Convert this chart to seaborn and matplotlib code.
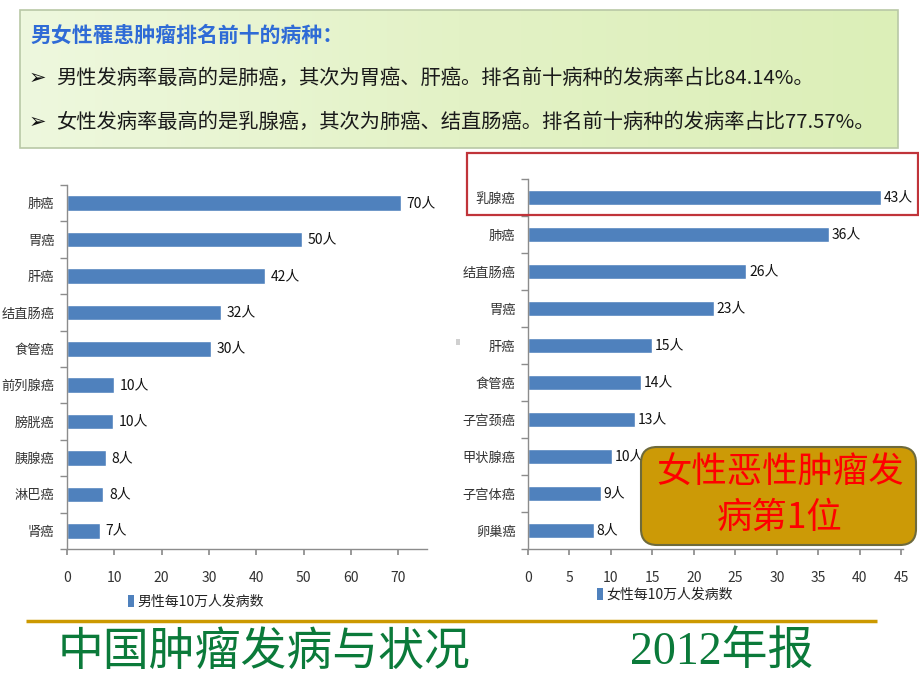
import numpy as np
import pandas as pd
import matplotlib
matplotlib.use("Agg")
import matplotlib.pyplot as plt
import seaborn as sns
from matplotlib.patches import FancyBboxPatch, Rectangle, Patch
from matplotlib.colors import LinearSegmentedColormap

# ---------------- data ----------------
male_cancers = ["肺癌", "胃癌", "肝癌", "结直肠癌", "食管癌", "前列腺癌", "膀胱癌", "胰腺癌", "淋巴癌", "肾癌"]
male_rates = [70.5, 49.7, 41.9, 32.5, 30.5, 10.0, 9.8, 8.3, 7.7, 7.0]
male_labels = ["70人", "50人", "42人", "32人", "30人", "10人", "10人", "8人", "8人", "7人"]
male_ticks = [0, 10, 20, 30, 40, 50, 60, 70]

female_cancers = ["乳腺癌", "肺癌", "结直肠癌", "胃癌", "肝癌", "食管癌", "子宫颈癌", "甲状腺癌", "子宫体癌", "卵巢癌"]
female_rates = [42.5, 36.3, 26.3, 22.4, 15.0, 13.6, 12.9, 10.1, 8.8, 7.9]
female_labels = ["43人", "36人", "26人", "23人", "15人", "14人", "13人", "10人", "9人", "8人"]
female_ticks = [0, 5, 10, 15, 20, 25, 30, 35, 40, 45]

male_legend = "男性每10万人发病数"
female_legend = "女性每10万人发病数"

title_text = "男女性罹患肿瘤排名前十的病种："
bullet1 = "男性发病率最高的是肺癌，其次为胃癌、肝癌。排名前十病种的发病率占比84.14%。"
bullet2 = "女性发病率最高的是乳腺癌，其次为肺癌、结直肠癌。排名前十病种的发病率占比77.57%。"
callout_lines = ["女性恶性肿瘤发", "病第1位"]
footer_left = "中国肿瘤发病与状况"
footer_right = "2012年报"

# ---------------- style ----------------
sns.set_theme(style="white")
CJK = ["Noto Sans CJK SC", "DejaVu Sans"]
plt.rcParams["font.family"] = CJK

BAR = "#4F81BD"
AXC = "#8C8C8C"
TXT = "#333333"

W, H = 920, 690
fig = plt.figure(figsize=(W / 100, H / 100), dpi=100)


def px(x, y):
    return (x / W, 1 - y / H)


def axes_rect(x0, y0, x1, y1):
    return [x0 / W, 1 - y1 / H, (x1 - x0) / W, (y1 - y0) / H]


# ---------------- header box ----------------
bg = fig.add_axes([0, 0, 1, 1], zorder=-5)
bg.set_xlim(0, W)
bg.set_ylim(H, 0)
bg.axis("off")
grad = np.linspace(0, 1, 256).reshape(1, -1)
cmap = LinearSegmentedColormap.from_list("g", ["#EEF8DE", "#E3F2C6", "#DCEFB8"])
bg.imshow(grad, extent=(20, 898, 148, 10), cmap=cmap, aspect="auto", zorder=0)
bg.add_patch(Rectangle((20, 10), 878, 138, fill=False, edgecolor="#B9C8A6", lw=1.2, zorder=1))

fig.text(*px(30, 35), title_text, color="#2F6BD6", fontsize=15, fontweight="bold",
         ha="left", va="center", family=CJK)
fig.text(*px(29, 78), "➢", color="#111111", fontsize=15, ha="left", va="center", family=["DejaVu Sans"])
fig.text(*px(56, 78), bullet1, color="#1A1A1A", fontsize=14.6, ha="left", va="center", family=CJK)
fig.text(*px(29, 122), "➢", color="#111111", fontsize=15, ha="left", va="center", family=["DejaVu Sans"])
fig.text(*px(56, 122), bullet2, color="#1A1A1A", fontsize=14.6, ha="left", va="center", family=CJK)


# ---------------- charts ----------------
def draw(ax, cats, vals, labels, ticks, xmax, legend, legend_xy, lpad):
    df = pd.DataFrame({"cancer": cats, "value": vals})
    sns.barplot(data=df, x="value", y="cancer", orient="h", color=BAR, width=0.43,
                saturation=1, ax=ax)
    ax.set_xlim(0, xmax)
    ax.set_ylim(len(cats) - 0.5, -0.5)
    ax.set_xlabel("")
    ax.set_ylabel("")
    ax.set_xticks(ticks)
    ax.set_xticklabels([str(t) for t in ticks])
    for s in ["top", "right"]:
        ax.spines[s].set_visible(False)
    for s in ["left", "bottom"]:
        ax.spines[s].set_color(AXC)
        ax.spines[s].set_linewidth(1.0)
    ax.tick_params(axis="x", direction="out", length=4, color=AXC, labelsize=10,
                   labelcolor=TXT, pad=12, bottom=True)
    ax.tick_params(axis="y", which="major", length=0, labelsize=9.5, labelcolor=TXT, pad=9, left=True)
    ax.set_yticks(np.arange(-0.5, len(cats), 1.0), minor=True)
    ax.tick_params(axis="y", which="minor", direction="out", length=5, color=AXC, left=True)
    ax.bar_label(ax.containers[0], labels=labels, padding=lpad, fontsize=10, color="#111111")
    ax.patch.set_alpha(0)
    fig.legend(handles=[Patch(facecolor=BAR, edgecolor="none", label=legend)],
               loc="center left", bbox_to_anchor=px(*legend_xy), frameon=False,
               handlelength=0.45, handleheight=0.9, handletextpad=0.25,
               fontsize=10, borderaxespad=0, borderpad=0, labelcolor="#222222")


axL = fig.add_axes(axes_rect(67, 185, 427, 549))
draw(axL, male_cancers, male_rates, male_labels, male_ticks, 76.1, male_legend, (128, 602), 4)

axR = fig.add_axes(axes_rect(528, 179, 903, 549))
draw(axR, female_cancers, female_rates, female_labels, female_ticks, 45.2, female_legend, (597, 595), 2)

# ---------------- overlays ----------------
ov = fig.add_axes([0, 0, 1, 1], zorder=10)
ov.set_xlim(0, W)
ov.set_ylim(H, 0)
ov.axis("off")
ov.patch.set_alpha(0)

# red highlight rectangle
ov.add_patch(Rectangle((467, 153), 451, 62, fill=False, edgecolor="#C0343A", lw=1.6))

# callout box
ov.add_patch(FancyBboxPatch((641, 447), 275, 98, boxstyle="round,pad=0,rounding_size=16",
                            facecolor="#CC9A06", edgecolor="#6E6A3C", lw=1.5))
ov.text(780, 472, callout_lines[0], color="#FF0000", fontsize=25.5, ha="center", va="center", family=CJK)
ov.text(780, 518, callout_lines[1], color="#FF0000", fontsize=25.5, ha="center", va="center", family=CJK)

# small grey mark
ov.add_patch(Rectangle((456, 339), 4, 6, facecolor="#D0D0D0", edgecolor="none"))

# footer line and text
ov.plot([26, 877], [621, 621], color="#CC9900", lw=2.5, solid_capstyle="butt")
ov.text(58, 652, footer_left, color="#0B7A3A", fontsize=33, ha="left", va="center",
        family=CJK)
ov.text(630, 652, footer_right, color="#0B7A3A", fontsize=33, ha="left", va="center",
        family=["Liberation Serif", "Noto Sans CJK SC"])

fig.savefig("out.png", dpi=100)
